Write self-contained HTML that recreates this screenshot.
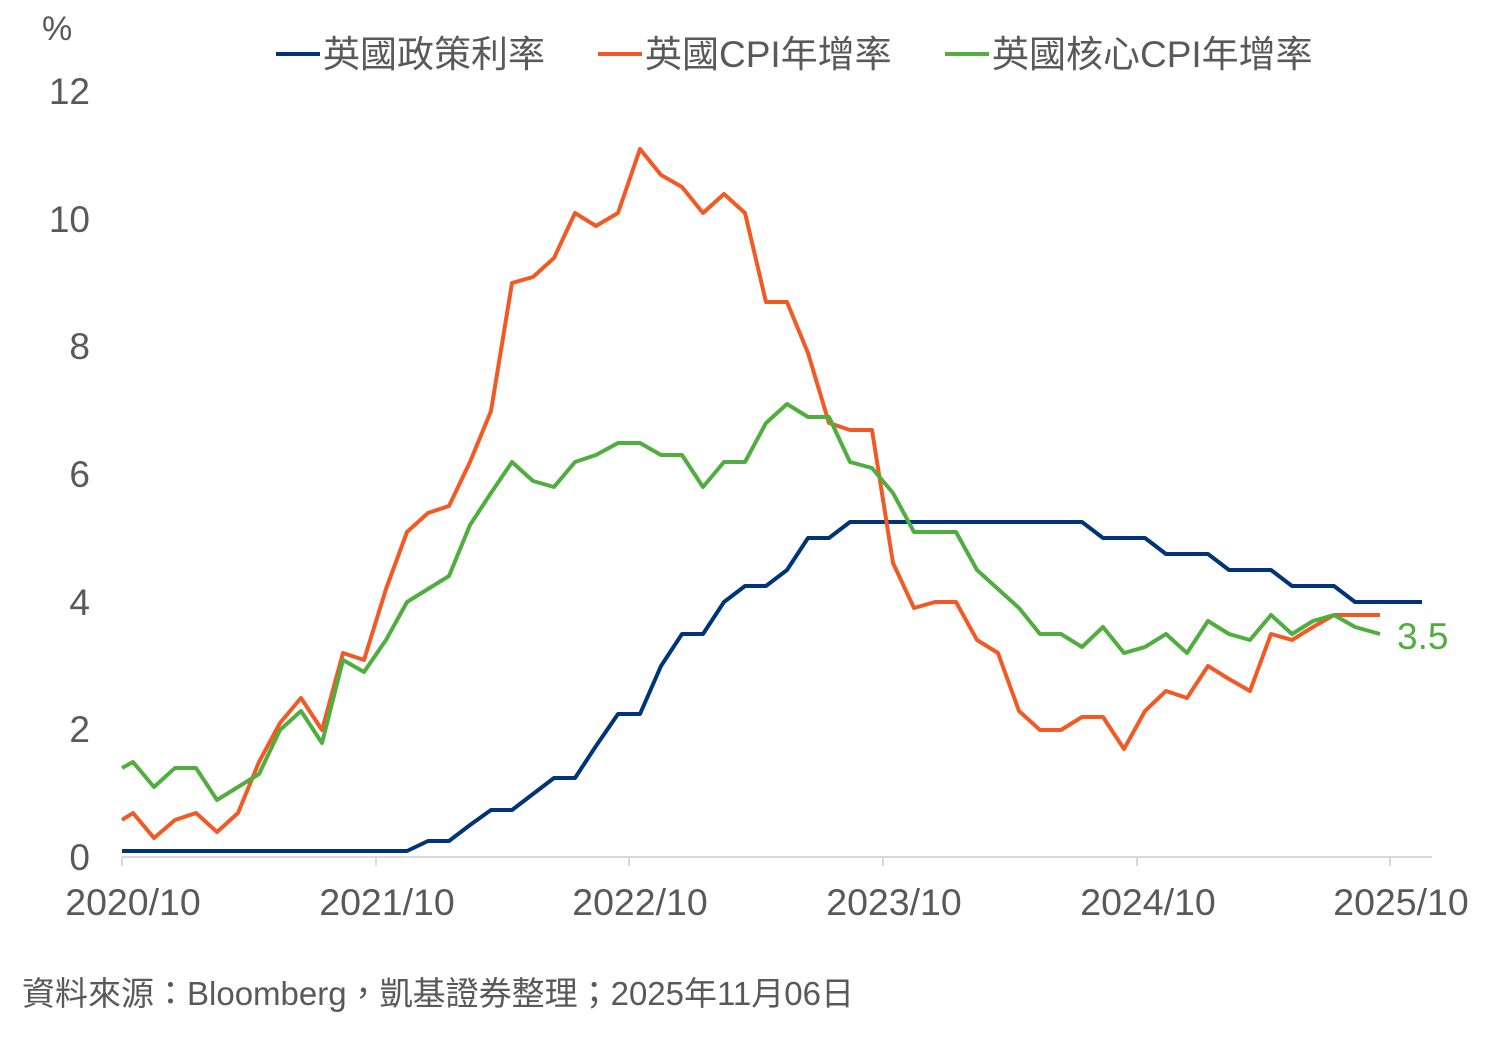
<!DOCTYPE html>
<html><head><meta charset="utf-8"><style>
body{margin:0;background:#fff;width:1509px;height:1040px;overflow:hidden}
text{font-family:"Liberation Sans","Noto Sans CJK TC",sans-serif;fill:#595959}
</style></head><body>
<svg width="1509" height="1040" xmlns="http://www.w3.org/2000/svg">
<text x="42" y="40" font-size="34">%</text>
<g font-size="37" text-anchor="end">
<text x="90" y="870">0</text><text x="90" y="742">2</text><text x="90" y="615">4</text>
<text x="90" y="487">6</text><text x="90" y="359">8</text><text x="90" y="232">10</text><text x="90" y="104">12</text>
</g>
<line x1="122" y1="857" x2="1432" y2="857" stroke="#d9d9d9" stroke-width="2"/>
<g stroke="#d9d9d9" stroke-width="2">
<line x1="122" y1="857" x2="122" y2="866"/><line x1="376" y1="857" x2="376" y2="866"/><line x1="629" y1="857" x2="629" y2="866"/>
<line x1="883" y1="857" x2="883" y2="866"/><line x1="1137" y1="857" x2="1137" y2="866"/><line x1="1390" y1="857" x2="1390" y2="866"/>
</g>
<g font-size="37.5" text-anchor="middle">
<text x="133" y="915">2020/10</text><text x="387" y="915">2021/10</text><text x="640" y="915">2022/10</text>
<text x="894" y="915">2023/10</text><text x="1148" y="915">2024/10</text><text x="1401" y="915">2025/10</text>
</g>
<g fill="none" stroke-width="4" stroke-linejoin="round">
<polyline stroke="#003478" points="122,851 407,851 428,841 449,841 470,825 491,810 512,810 533,794 554,778 575,778 596,746 618,714 640,714 661,666 682,634 703,634 724,602 745,586 766,586 787,570 808,538 829,538 850,522 1082,522 1103,538 1145,538 1166,554 1208,554 1229,570 1271,570 1292,586 1334,586 1355,602 1422,602"/>
<polyline stroke="#f15a24" points="122,820 133,813 154,838 175,820 196,813 217,832 238,813 259,762 280,723 301,698 322,730 343,653 364,660 386,589 407,532 428,513 449,506 470,462 491,411 512,283 533,277 554,258 575,213 596,226 618,213 640,149 661,175 682,187 703,213 724,194 745,213 766,302 787,302 808,353 829,423 850,430 872,430 893,563 914,608 935,602 956,602 977,640 998,653 1019,711 1040,730 1061,730 1082,717 1103,717 1124,749 1145,711 1166,691 1187,698 1208,666 1229,679 1250,691 1271,634 1292,640 1313,627 1334,615 1355,615 1380,615"/>
<polyline stroke="#4fae3d" points="122,768 133,762 154,787 175,768 196,768 217,800 238,787 259,774 280,730 301,711 322,743 343,660 364,672 386,640 407,602 428,589 449,576 470,525 491,493 512,462 533,481 554,487 575,462 596,455 618,443 640,443 661,455 682,455 703,487 724,462 745,462 766,423 787,404 808,417 829,417 850,462 872,468 893,493 914,532 935,532 956,532 977,570 998,589 1019,608 1040,634 1061,634 1082,647 1103,627 1124,653 1145,647 1166,634 1187,653 1208,621 1229,634 1250,640 1271,615 1292,634 1313,621 1334,615 1355,627 1380,634"/>
</g>
<text x="1397" y="649" font-size="37" style="fill:#4fae3d">3.5</text>
<g stroke-width="4">
<line x1="276" y1="54" x2="320" y2="54" stroke="#003478"/>
<line x1="598" y1="54" x2="642" y2="54" stroke="#f15a24"/>
<line x1="945" y1="54" x2="989" y2="54" stroke="#4fae3d"/>
</g>
<g font-size="37">
<text x="323" y="67">英國政策利率</text>
<text x="645" y="67">英國CPI年增率</text>
<text x="992" y="67">英國核心CPI年增率</text>
</g>
<text x="22" y="1005" font-size="33">資料來源：Bloomberg，凱基證券整理；2025年11月06日</text>
</svg>
</body></html>
